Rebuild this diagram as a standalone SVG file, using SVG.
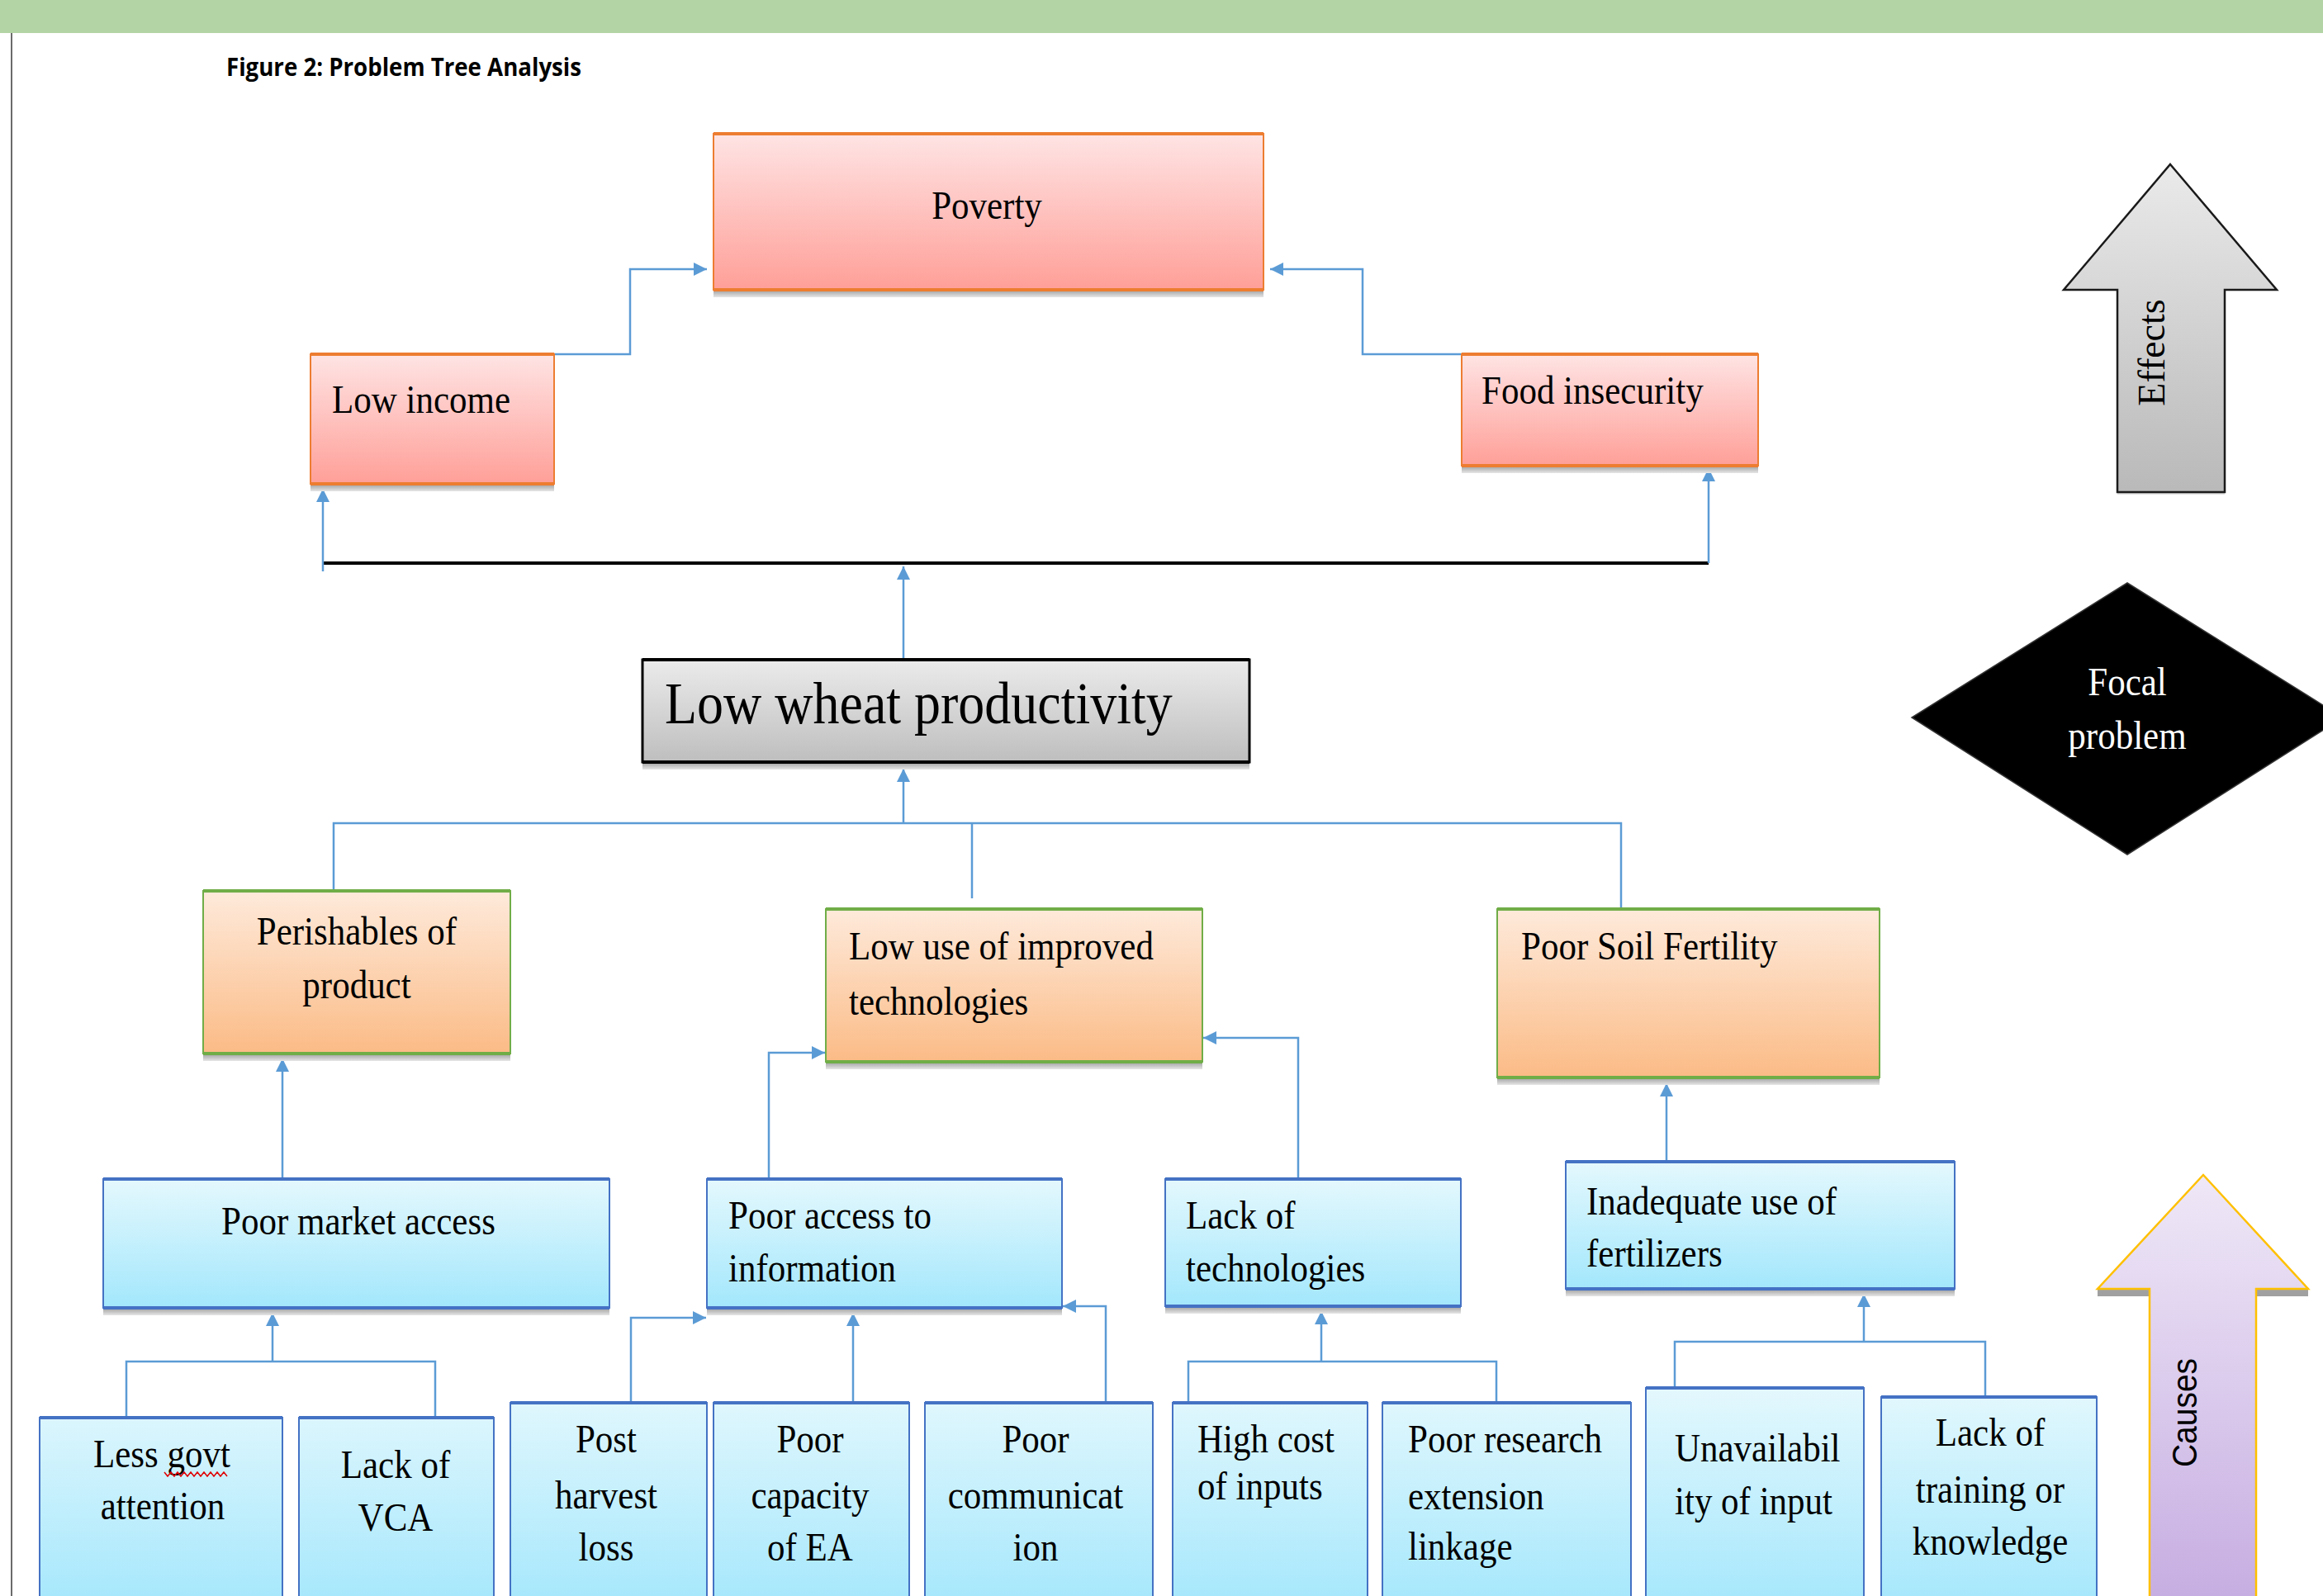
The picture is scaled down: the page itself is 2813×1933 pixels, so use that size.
<svg xmlns="http://www.w3.org/2000/svg" width="2813" height="1933" viewBox="0 0 2813 1933">
<defs>
<linearGradient id="gRed" x1="0" y1="0" x2="0" y2="1"><stop offset="0" stop-color="#fee4e4"/><stop offset="1" stop-color="#ff9f98"/></linearGradient>
<linearGradient id="gOr" x1="0" y1="0" x2="0" y2="1"><stop offset="0" stop-color="#feeadb"/><stop offset="1" stop-color="#fbbb86"/></linearGradient>
<linearGradient id="gBl" x1="0" y1="0" x2="0" y2="1"><stop offset="0" stop-color="#e4f8fd"/><stop offset="1" stop-color="#a3e7fc"/></linearGradient>
<linearGradient id="gBlTall" gradientUnits="userSpaceOnUse" x1="0" y1="1680" x2="0" y2="1933"><stop offset="0" stop-color="#e4f8fd"/><stop offset="1" stop-color="#a8e8fc"/></linearGradient>
<linearGradient id="gGr" x1="0" y1="0" x2="0" y2="1"><stop offset="0" stop-color="#ebebeb"/><stop offset="1" stop-color="#bebebe"/></linearGradient>
<linearGradient id="gEff" x1="0" y1="0" x2="0" y2="1"><stop offset="0" stop-color="#eaeaea"/><stop offset="1" stop-color="#b9b9b9"/></linearGradient>
<linearGradient id="gCau" gradientUnits="userSpaceOnUse" x1="0" y1="1423" x2="0" y2="1933"><stop offset="0" stop-color="#efe8f7"/><stop offset="1" stop-color="#c7aee2"/></linearGradient>
<linearGradient id="gSh" x1="0" y1="0" x2="0" y2="1"><stop offset="0" stop-color="#9c9c9c"/><stop offset="1" stop-color="#e6e6e6"/></linearGradient>
<marker id="ah" viewBox="0 0 16 16" refX="16" refY="8" markerWidth="16" markerHeight="16" markerUnits="userSpaceOnUse" orient="auto">
<path d="M0,0 L16,8 L0,16 z" fill="#5b9bd5"/>
</marker>
<style>
.t{font-family:"Liberation Serif","Times New Roman",serif;font-size:43px;fill:#000;transform-box:fill-box;transform-origin:0 100%;transform:scale(1,1.14)}
.r{font-family:"Liberation Serif","Times New Roman",serif;font-size:46px;fill:#000;text-anchor:middle}
.m{text-anchor:middle}
.sh{fill:url(#gSh)}
.rb{fill:url(#gRed);stroke:#ed7d31;stroke-width:2}
.re{stroke:#ed7d31;stroke-width:4;fill:none}
.ob{fill:url(#gOr);stroke:#70ad47;stroke-width:2}
.oe{stroke:#70ad47;stroke-width:4;fill:none}
.bb{fill:url(#gBl);stroke:#4472c4;stroke-width:2}
.bt{fill:url(#gBlTall);stroke:#4472c4;stroke-width:2}
.be{stroke:#4472c4;stroke-width:4;fill:none}
.c{fill:none;stroke:#5b9bd5;stroke-width:2.5}
.ca{fill:none;stroke:#5b9bd5;stroke-width:2.5;marker-end:url(#ah)}
</style>
</defs>

<rect x="0" y="0" width="2813" height="40" fill="#b3d4a5"/>
<line x1="14" y1="40" x2="14" y2="1933" stroke="#6b6b6b" stroke-width="2"/>
<text x="274" y="92" font-family="'Open Sans','Liberation Sans',sans-serif" font-weight="bold" font-size="30" textLength="430" lengthAdjust="spacingAndGlyphs">Figure 2: Problem Tree Analysis</text>

<g id="connectors">
<path class="ca" d="M671,429 H763 V326 H856"/>
<path class="ca" d="M1770,429 H1650 V326 H1538"/>
<line x1="391" y1="682" x2="2069" y2="682" stroke="#000" stroke-width="4"/>
<path class="ca" d="M391,692 V592"/>
<path class="ca" d="M2069,682 V567"/>
<path class="ca" d="M1094,799 V686"/>
<path class="ca" d="M1094,997 V931"/>
<path class="c" d="M404,1079 V997 H1963 V1107 M1177,997 V1088"/>
<path class="ca" d="M342,1428 V1282"/>
<path class="ca" d="M931,1428 V1275 H999"/>
<path class="ca" d="M1572,1428 V1257 H1457"/>
<path class="ca" d="M2018,1407 V1312"/>
<path class="ca" d="M330,1649 V1590"/>
<path class="c" d="M153,1733 V1649 H527 V1717"/>
<path class="ca" d="M764,1699 V1596 H855"/>
<path class="ca" d="M1033,1699 V1590"/>
<path class="ca" d="M1339,1699 V1582 H1287"/>
<path class="ca" d="M1600,1649 V1588"/>
<path class="c" d="M1439,1719 V1649 H1812 V1719"/>
<path class="ca" d="M2257,1625 V1567"/>
<path class="c" d="M2028,1693 V1625 H2404 V1692"/>
</g>

<g id="poverty">
<rect class="sh" x="864" y="351" width="666" height="9"/>
<rect class="rb" x="864" y="162" width="666" height="189"/>
<path class="re" d="M864,162 H1530 M864,351 H1530"/>
<text class="t m" x="1195" y="266">Poverty</text>
</g>

<g id="low-income">
<rect class="sh" x="376" y="586" width="295" height="9"/>
<rect class="rb" x="376" y="429" width="295" height="157"/>
<path class="re" d="M376,429 H671 M376,586 H671"/>
<text class="t" x="402" y="501">Low income</text>
</g>

<g id="food-insecurity">
<rect class="sh" x="1770" y="564" width="359" height="9"/>
<rect class="rb" x="1770" y="429" width="359" height="135"/>
<path class="re" d="M1770,429 H2129 M1770,564 H2129"/>
<text class="t" x="1794" y="490">Food insecurity</text>
</g>

<g id="low-wheat-productivity">
<rect class="sh" x="778" y="923" width="735" height="9"/>
<rect x="778" y="799" width="735" height="124" fill="url(#gGr)" stroke="#000" stroke-width="3"/>
<path d="M778,799 H1513 M778,923 H1513" stroke="#000" stroke-width="4"/>
<text class="t" x="805" y="878" style="font-size:64px;transform:scale(1,1.12)">Low wheat productivity</text>
</g>

<g id="perishables">
<rect class="sh" x="246" y="1276" width="372" height="9"/>
<rect class="ob" x="246" y="1079" width="372" height="197"/>
<path class="oe" d="M246,1079 H618 M246,1276 H618"/>
<text class="t m" x="432" y="1145">Perishables of</text>
<text class="t m" x="432" y="1210">product</text>
</g>

<g id="low-use">
<rect class="sh" x="1000" y="1286" width="456" height="9"/>
<rect class="ob" x="1000" y="1101" width="456" height="185"/>
<path class="oe" d="M1000,1101 H1456 M1000,1286 H1456"/>
<text class="t" x="1028" y="1163">Low use of improved</text>
<text class="t" x="1028" y="1230">technologies</text>
</g>

<g id="poor-soil">
<rect class="sh" x="1813" y="1305" width="463" height="9"/>
<rect class="ob" x="1813" y="1101" width="463" height="204"/>
<path class="oe" d="M1813,1101 H2276 M1813,1305 H2276"/>
<text class="t" x="1842" y="1163">Poor Soil Fertility</text>
</g>

<g id="poor-market-access">
<rect class="sh" x="125" y="1584" width="613" height="9"/>
<rect class="bb" x="125" y="1428" width="613" height="156"/>
<path class="be" d="M125,1428 H738 M125,1584 H738"/>
<text class="t m" x="434" y="1496">Poor market access</text>
</g>

<g id="poor-access-info">
<rect class="sh" x="856" y="1584" width="430" height="9"/>
<rect class="bb" x="856" y="1428" width="430" height="156"/>
<path class="be" d="M856,1428 H1286 M856,1584 H1286"/>
<text class="t" x="882" y="1489">Poor access to</text>
<text class="t" x="882" y="1553">information</text>
</g>

<g id="lack-tech">
<rect class="sh" x="1411" y="1582" width="358" height="9"/>
<rect class="bb" x="1411" y="1428" width="358" height="154"/>
<path class="be" d="M1411,1428 H1769 M1411,1582 H1769"/>
<text class="t" x="1436" y="1489">Lack of</text>
<text class="t" x="1436" y="1553">technologies</text>
</g>

<g id="inadequate-fert">
<rect class="sh" x="1896" y="1561" width="471" height="9"/>
<rect class="bb" x="1896" y="1407" width="471" height="154"/>
<path class="be" d="M1896,1407 H2367 M1896,1561 H2367"/>
<text class="t" x="1921" y="1472">Inadequate use of</text>
<text class="t" x="1921" y="1535">fertilizers</text>
</g>

<g id="less-govt">
<rect class="bt" x="48" y="1717" width="294" height="260"/>
<path class="be" d="M48,1717 H342"/>
<text class="t m" x="196" y="1778">Less govt</text>
<path d="M199,1783 l4,5 l4,-5 l4,5 l4,-5 l4,5 l4,-5 l4,5 l4,-5 l4,5 l4,-5 l4,5 l4,-5 l4,5 l4,-5 l4,5 l4,-5 l4,5 l4,-5 l4,5" fill="none" stroke="#e00000" stroke-width="1.5"/>
<text class="t m" x="197" y="1841">attention</text>
</g>

<g id="lack-vca">
<rect class="bt" x="362" y="1717" width="236" height="260"/>
<path class="be" d="M362,1717 H598"/>
<text class="t m" x="479" y="1791">Lack of</text>
<text class="t m" x="479" y="1855">VCA</text>
</g>

<g id="post-harvest">
<rect class="bt" x="618" y="1699" width="238" height="280"/>
<path class="be" d="M618,1699 H856"/>
<text class="t m" x="734" y="1760">Post</text>
<text class="t m" x="734" y="1828">harvest</text>
<text class="t m" x="734" y="1891">loss</text>
</g>

<g id="poor-capacity">
<rect class="bt" x="864" y="1699" width="237" height="280"/>
<path class="be" d="M864,1699 H1101"/>
<text class="t m" x="981" y="1760">Poor</text>
<text class="t m" x="981" y="1828">capacity</text>
<text class="t m" x="981" y="1891">of EA</text>
</g>

<g id="poor-communication">
<rect class="bt" x="1120" y="1699" width="276" height="280"/>
<path class="be" d="M1120,1699 H1396"/>
<text class="t m" x="1254" y="1760">Poor</text>
<text class="t m" x="1254" y="1828">communicat</text>
<text class="t m" x="1254" y="1891">ion</text>
</g>

<g id="high-cost">
<rect class="bt" x="1420" y="1699" width="236" height="280"/>
<path class="be" d="M1420,1699 H1656"/>
<text class="t" x="1450" y="1760">High cost</text>
<text class="t" x="1450" y="1817">of inputs</text>
</g>

<g id="poor-research">
<rect class="bt" x="1674" y="1699" width="301" height="280"/>
<path class="be" d="M1674,1699 H1975"/>
<text class="t" x="1705" y="1760">Poor research</text>
<text class="t" x="1705" y="1829">extension</text>
<text class="t" x="1705" y="1890">linkage</text>
</g>

<g id="unavailability">
<rect class="bt" x="1993" y="1681" width="264" height="300"/>
<path class="be" d="M1993,1681 H2257"/>
<text class="t" x="2028" y="1771">Unavailabil</text>
<text class="t" x="2028" y="1835">ity of input</text>
</g>

<g id="lack-training">
<rect class="bt" x="2278" y="1692" width="261" height="290"/>
<path class="be" d="M2278,1692 H2539"/>
<text class="t m" x="2410" y="1752">Lack of</text>
<text class="t m" x="2410" y="1821">training or</text>
<text class="t m" x="2410" y="1884">knowledge</text>
</g>

<g id="effects-arrow">
<rect x="2564" y="592" width="130" height="7" fill="url(#gSh)"/>
<polygon points="2628,199 2757,351 2694,351 2694,596 2564,596 2564,351 2499,351" fill="url(#gEff)" stroke="#1a1a1a" stroke-width="2.5" stroke-linejoin="miter"/>
<text class="r" transform="translate(2621,427) rotate(-90)" x="0" y="0">Effects</text>
</g>

<g id="focal-problem">
<polygon points="2576,706 2837,869 2576,1035 2315,869" fill="#000" stroke="#333" stroke-width="1.5"/>
<text class="t m" x="2576" y="843" style="fill:#fff">Focal</text>
<text class="t m" x="2576" y="908" style="fill:#fff">problem</text>
</g>

<g id="causes-arrow">
<path d="M2540,1561 H2603 M2732,1561 H2795" stroke="#a0a0a0" stroke-width="8" transform="translate(0,5)"/>
<polygon points="2668,1423 2795,1561 2732,1561 2732,1945 2603,1945 2603,1561 2540,1561" fill="url(#gCau)" stroke="#ffc000" stroke-width="2.5"/>
<text transform="translate(2660,1711) rotate(-90)" x="0" y="0" text-anchor="middle" font-family="'Liberation Sans',Arial,sans-serif" font-size="42" textLength="132" lengthAdjust="spacingAndGlyphs">Causes</text>
</g>
</svg>
